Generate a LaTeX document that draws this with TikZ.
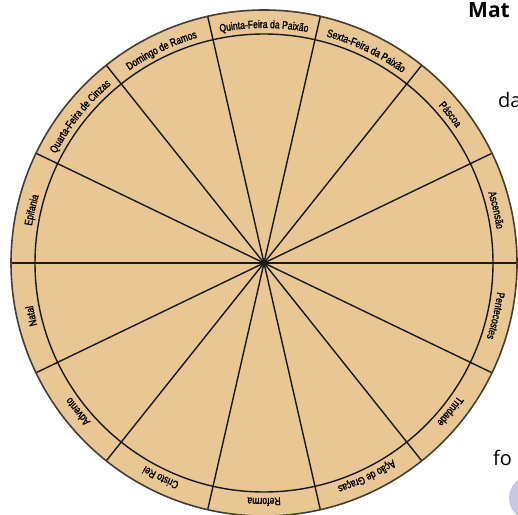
\documentclass[tikz,border=0pt]{standalone}
\usepackage{fontspec}
\usetikzlibrary{decorations.text}
\newfontfamily\lblfont{Liberation Sans}[FakeStretch=0.78, FakeBold=1.5]
\newfontfamily\pagefont{Open Sans}
\newcommand{\lbl}{\lblfont\fontsize{11}{13}\selectfont}
\definecolor{kraft}{RGB}{232,199,148}
\definecolor{rim}{RGB}{70,62,52}
\definecolor{dotlilac}{RGB}{200,200,228}
\begin{document}
\begin{tikzpicture}[x=1pt,y=1pt,
    spoke/.style={line width=1.4pt, black!90},
    ring/.style={line width=1.4pt, black!90},
    season/.style={decorate, decoration={text along path, text align=center, text={|\lbl|#1}}}]
    \useasboundingbox (-264,-251) rectangle (254,263);
    \clip (-264,-251) rectangle (254,263);
    % Disc
    \fill[kraft] (0,0) circle (253);
    % Spokes
    \draw[spoke] (0:253) -- (180:253);
    \draw[spoke] (25.71:253) -- (205.71:253);
    \draw[spoke] (51.43:253) -- (231.43:253);
    \draw[spoke] (77.14:253) -- (257.14:253);
    \draw[spoke] (102.86:253) -- (282.86:253);
    \draw[spoke] (128.57:253) -- (308.57:253);
    \draw[spoke] (154.29:253) -- (334.29:253);
    % Rings
    \draw[ring] (0,0) circle (229);
    \draw[rim, line width=1.6pt] (0,0) circle (253);
    % Upper labels
    \path[season={Quinta-Feira da Paixão}] (0,0) ++(102.86:235) arc[start angle=102.86, end angle=77.14, radius=235];
    \path[season={Sexta-Feira da Paixão}] (0,0) ++(77.14:235) arc[start angle=77.14, end angle=51.43, radius=235];
    \path[season={Páscoa}] (0,0) ++(51.43:235) arc[start angle=51.43, end angle=25.71, radius=235];
    \path[season={Ascensão}] (0,0) ++(25.71:235) arc[start angle=25.71, end angle=0, radius=235];
    \path[season={Epifania}] (0,0) ++(180:235) arc[start angle=180, end angle=154.29, radius=235];
    \path[season={Quarta-Feira de Cinzas}] (0,0) ++(154.29:235) arc[start angle=154.29, end angle=128.57, radius=235];
    \path[season={Domingo de Ramos}] (0,0) ++(128.57:235) arc[start angle=128.57, end angle=102.86, radius=235];
    % Lower labels
    \path[season={Pentecostes}] (0,0) ++(0:235) arc[start angle=0, end angle=-25.71, radius=235];
    \path[season={Trindade}] (0,0) ++(-25.71:235) arc[start angle=-25.71, end angle=-51.43, radius=235];
    \path[season={Ação de Graças}] (0,0) ++(-51.43:235) arc[start angle=-51.43, end angle=-77.14, radius=235];
    \path[season={Reforma}] (0,0) ++(-77.14:235) arc[start angle=-77.14, end angle=-102.86, radius=235];
    \path[season={Cristo Rei}] (0,0) ++(-102.86:235) arc[start angle=-102.86, end angle=-128.57, radius=235];
    \path[season={Advento}] (0,0) ++(-128.57:235) arc[start angle=-128.57, end angle=-154.29, radius=235];
    \path[season={Natal}] (0,0) ++(-154.29:235) arc[start angle=-154.29, end angle=-180, radius=235];
    % Page around the disc
    \node[anchor=base west, inner sep=0pt, font=\pagefont\bfseries\fontsize{21}{24}\selectfont] (mat) at (204,245) {Mat};
    \node[anchor=base west, inner sep=0pt, font=\pagefont\fontsize{20}{24}\selectfont] (da) at (234,155) {da};
    \node[anchor=base west, inner sep=0pt, font=\pagefont\fontsize{20}{24}\selectfont] (fo) at (229,-202) {fo};
    \fill[dotlilac] (268,-235) circle (23);
\end{tikzpicture}
\end{document}
